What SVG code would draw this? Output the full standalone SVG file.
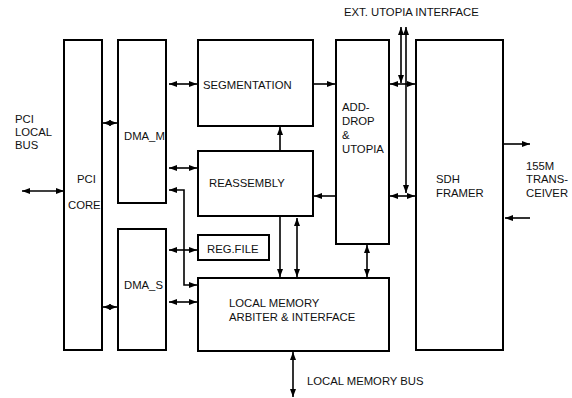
<svg xmlns="http://www.w3.org/2000/svg" width="572" height="398" viewBox="0 0 572 398">
<style>
.box{fill:#fff;stroke:#000;stroke-width:2}
.c{fill:none;stroke:#000;stroke-width:1.6}
text{font-family:"Liberation Sans",Arial,sans-serif;font-size:11.3px;fill:#111}
</style>
<defs>
<marker id="a" viewBox="0 0 8 6" refX="8" refY="3" markerWidth="8" markerHeight="6" markerUnits="userSpaceOnUse" orient="auto-start-reverse">
<path d="M0,0 L8,3 L0,6 z" fill="#000"/>
</marker>
</defs>
<rect width="572" height="398" fill="#fff"/>
<g id="pci-core"><rect class="box" x="64" y="40" width="38" height="310"/><text x="77" y="183">PCI</text><text x="68" y="209">CORE</text></g>
<g id="dma-m"><rect class="box" x="118" y="40" width="48" height="163"/><text x="124" y="140">DMA_M</text></g>
<g id="dma-s"><rect class="box" x="118" y="229" width="48" height="121"/><text x="124" y="289">DMA_S</text></g>
<g id="segmentation"><rect class="box" x="198" y="40" width="115" height="86"/><text x="203" y="89">SEGMENTATION</text></g>
<g id="reassembly"><rect class="box" x="198" y="151" width="115" height="65"/><text x="209" y="187">REASSEMBLY</text></g>
<g id="reg-file"><rect class="box" x="198" y="235" width="71" height="25"/><text x="207" y="253">REG.FILE</text></g>
<g id="local-memory"><rect class="box" x="198" y="278" width="191" height="73"/><text x="229" y="307">LOCAL MEMORY</text><text x="229" y="321">ARBITER &amp; INTERFACE</text></g>
<g id="add-drop"><rect class="box" x="336" y="40" width="53" height="204"/><text x="342" y="111">ADD-</text><text x="342" y="125">DROP</text><text x="342" y="139">&amp;</text><text x="342" y="153">UTOPIA</text></g>
<g id="sdh-framer"><rect class="box" x="416" y="40" width="87" height="310"/><text x="436" y="183">SDH</text><text x="436" y="197">FRAMER</text></g>
<g id="labels">
<text x="15" y="123">PCI</text><text x="15" y="136">LOCAL</text><text x="15" y="149">BUS</text>
<text x="344" y="16">EXT. UTOPIA INTERFACE</text>
<text x="526" y="170">155M</text><text x="526" y="183">TRANS-</text><text x="526" y="197">CEIVER</text>
<text x="307" y="385">LOCAL MEMORY BUS</text>
</g>
<g id="connectors">
<line class="c" x1="22" y1="191" x2="64" y2="191" marker-start="url(#a)" marker-end="url(#a)"/>
<line class="c" x1="103" y1="123" x2="117" y2="123" marker-start="url(#a)" marker-end="url(#a)"/>
<line class="c" x1="103" y1="307" x2="117" y2="307" marker-start="url(#a)" marker-end="url(#a)"/>
<line class="c" x1="169" y1="84" x2="197" y2="84" marker-start="url(#a)" marker-end="url(#a)"/>
<line class="c" x1="169" y1="168" x2="197" y2="168" marker-start="url(#a)" marker-end="url(#a)"/>
<path class="c" d="M169,190 H184 V285 H197" marker-start="url(#a)" marker-end="url(#a)"/>
<line class="c" x1="169" y1="250" x2="197" y2="250" marker-start="url(#a)" marker-end="url(#a)"/>
<line class="c" x1="169" y1="302" x2="197" y2="302" marker-start="url(#a)" marker-end="url(#a)"/>
<line class="c" x1="314" y1="84" x2="335" y2="84" marker-end="url(#a)"/>
<line class="c" x1="280" y1="150" x2="280" y2="127" marker-end="url(#a)"/>
<line class="c" x1="336" y1="196" x2="314" y2="196" marker-end="url(#a)"/>
<line class="c" x1="280" y1="217" x2="280" y2="277" marker-end="url(#a)"/>
<line class="c" x1="297" y1="218" x2="297" y2="277" marker-start="url(#a)" marker-end="url(#a)"/>
<line class="c" x1="367" y1="245" x2="367" y2="277" marker-start="url(#a)" marker-end="url(#a)"/>
<line class="c" x1="401" y1="27" x2="401" y2="83" marker-start="url(#a)" marker-end="url(#a)"/>
<line class="c" x1="406" y1="27" x2="406" y2="193" marker-start="url(#a)" marker-end="url(#a)"/>
<line class="c" x1="390" y1="84" x2="415" y2="84" marker-start="url(#a)" marker-end="url(#a)"/>
<line class="c" x1="390" y1="196" x2="415" y2="196" marker-start="url(#a)" marker-end="url(#a)"/>
<line class="c" x1="504" y1="144" x2="530" y2="144" marker-end="url(#a)"/>
<line class="c" x1="530" y1="218" x2="505" y2="218" marker-end="url(#a)"/>
<line class="c" x1="293" y1="352" x2="293" y2="397" marker-start="url(#a)" marker-end="url(#a)"/>
</g>
</svg>
